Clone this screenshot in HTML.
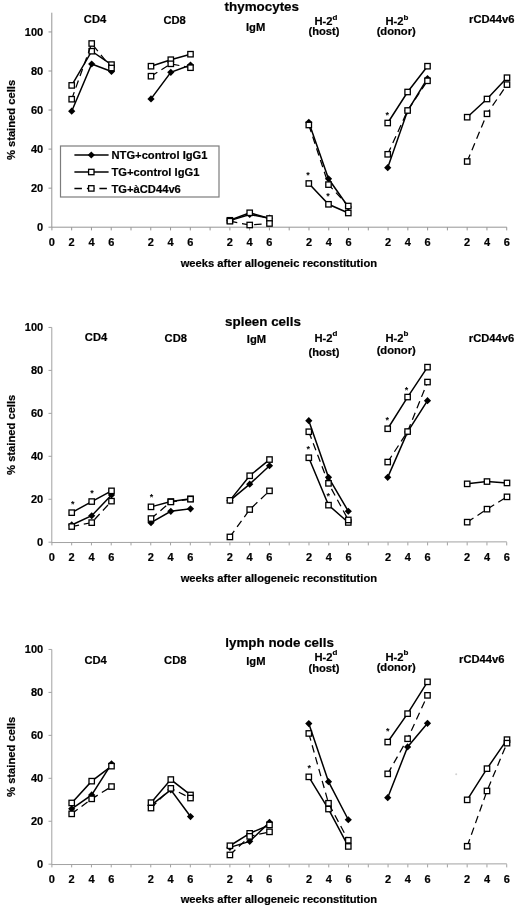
<!DOCTYPE html>
<html lang="en"><head><meta charset="utf-8"><title>Figure</title>
<style>
html,body{margin:0;padding:0;background:#fff}
svg{display:block}
text{font-family:"Liberation Sans",Arial,Helvetica,sans-serif;font-weight:bold;fill:#000;stroke:#000;stroke-width:.2px}
.t{font-size:11px}
.l{font-size:11.2px}
.h{font-size:13.4px}
.s{font-size:8px}
.st{font-size:9px;font-weight:bold;stroke:none}
</style></head><body>
<svg width="520" height="909" viewBox="0 0 520 909">
<rect width="520" height="909" fill="#fff"/>
<g stroke="#959595" stroke-width="1" fill="none">
<path d="M51.8 12.7V227.2L506.8 227.2"/>
<path d="M48.50 227.20H51.8"/>
<path d="M48.50 188.15H51.8"/>
<path d="M48.50 149.10H51.8"/>
<path d="M48.50 110.05H51.8"/>
<path d="M48.50 71.00H51.8"/>
<path d="M48.50 31.95H51.8"/>
<path d="M51.90 227.2V230.40"/>
<path d="M71.67 227.2V230.40"/>
<path d="M91.45 227.2V230.40"/>
<path d="M111.22 227.2V230.40"/>
<path d="M131.00 227.2V230.40"/>
<path d="M150.78 227.2V230.40"/>
<path d="M170.55 227.2V230.40"/>
<path d="M190.32 227.2V230.40"/>
<path d="M210.10 227.2V230.40"/>
<path d="M229.88 227.2V230.40"/>
<path d="M249.65 227.2V230.40"/>
<path d="M269.42 227.2V230.40"/>
<path d="M289.20 227.2V230.40"/>
<path d="M308.97 227.2V230.40"/>
<path d="M328.75 227.2V230.40"/>
<path d="M348.52 227.2V230.40"/>
<path d="M368.30 227.2V230.40"/>
<path d="M388.07 227.2V230.40"/>
<path d="M407.85 227.2V230.40"/>
<path d="M427.62 227.2V230.40"/>
<path d="M447.40 227.2V230.40"/>
<path d="M467.17 227.2V230.40"/>
<path d="M486.95 227.2V230.40"/>
<path d="M506.72 227.2V230.40"/>
</g>
<text class="t" text-anchor="end" x="43.2" y="231.10">0</text>
<text class="t" text-anchor="end" x="43.2" y="192.05">20</text>
<text class="t" text-anchor="end" x="43.2" y="153.00">40</text>
<text class="t" text-anchor="end" x="43.2" y="113.95">60</text>
<text class="t" text-anchor="end" x="43.2" y="74.90">80</text>
<text class="t" text-anchor="end" x="43.2" y="35.85">100</text>
<text class="t" text-anchor="middle" x="51.90" y="246.3">0</text>
<text class="t" text-anchor="middle" x="71.67" y="246.3">2</text>
<text class="t" text-anchor="middle" x="91.45" y="246.3">4</text>
<text class="t" text-anchor="middle" x="111.22" y="246.3">6</text>
<text class="t" text-anchor="middle" x="150.78" y="246.3">2</text>
<text class="t" text-anchor="middle" x="170.55" y="246.3">4</text>
<text class="t" text-anchor="middle" x="190.32" y="246.3">6</text>
<text class="t" text-anchor="middle" x="229.88" y="246.3">2</text>
<text class="t" text-anchor="middle" x="249.65" y="246.3">4</text>
<text class="t" text-anchor="middle" x="269.42" y="246.3">6</text>
<text class="t" text-anchor="middle" x="308.97" y="246.3">2</text>
<text class="t" text-anchor="middle" x="328.75" y="246.3">4</text>
<text class="t" text-anchor="middle" x="348.52" y="246.3">6</text>
<text class="t" text-anchor="middle" x="388.07" y="246.3">2</text>
<text class="t" text-anchor="middle" x="407.85" y="246.3">4</text>
<text class="t" text-anchor="middle" x="427.62" y="246.3">6</text>
<text class="t" text-anchor="middle" x="467.17" y="246.3">2</text>
<text class="t" text-anchor="middle" x="486.95" y="246.3">4</text>
<text class="t" text-anchor="middle" x="506.72" y="246.3">6</text>
<text class="l" text-anchor="middle" x="278.9" y="266.7">weeks after allogeneic reconstitution</text>
<text class="l" text-anchor="middle" transform="translate(15.2 120.0) rotate(-90)">% stained cells</text>
<text class="h" text-anchor="middle" x="261.8" y="11">thymocytes</text>
<text class="l" text-anchor="middle" x="95" y="23.1">CD4</text>
<text class="l" text-anchor="middle" x="174.6" y="24.1">CD8</text>
<text class="l" text-anchor="middle" x="255.6" y="31.3">IgM</text>
<text class="l" text-anchor="middle" x="326" y="25.0">H-2<tspan class="s" dy="-5.5">d</tspan></text>
<text class="l" text-anchor="middle" x="324" y="35">(host)</text>
<text class="l" text-anchor="middle" x="397" y="25.0">H-2<tspan class="s" dy="-5.5">b</tspan></text>
<text class="l" text-anchor="middle" x="396.2" y="34.8">(donor)</text>
<text class="l" text-anchor="middle" x="491.8" y="23">rCD44v6</text>
<path d="M71.70 111.20L91.70 64.00L111.50 71.50" fill="none" stroke="#000" stroke-width="1.5"/>
<path d="M71.70 107.60L75.30 111.20L71.70 114.80L68.10 111.20Z" fill="#000"/>
<path d="M91.70 60.40L95.30 64.00L91.70 67.60L88.10 64.00Z" fill="#000"/>
<path d="M111.50 67.90L115.10 71.50L111.50 75.10L107.90 71.50Z" fill="#000"/>
<path d="M151.00 98.90L170.80 72.30L190.50 65.00" fill="none" stroke="#000" stroke-width="1.5"/>
<path d="M151.00 95.30L154.60 98.90L151.00 102.50L147.40 98.90Z" fill="#000"/>
<path d="M170.80 68.70L174.40 72.30L170.80 75.90L167.20 72.30Z" fill="#000"/>
<path d="M190.50 61.40L194.10 65.00L190.50 68.60L186.90 65.00Z" fill="#000"/>
<path d="M229.90 220.60L249.70 214.50L269.50 218.20" fill="none" stroke="#000" stroke-width="1.5"/>
<path d="M229.90 217.00L233.50 220.60L229.90 224.20L226.30 220.60Z" fill="#000"/>
<path d="M249.70 210.90L253.30 214.50L249.70 218.10L246.10 214.50Z" fill="#000"/>
<path d="M269.50 214.60L273.10 218.20L269.50 221.80L265.90 218.20Z" fill="#000"/>
<path d="M308.80 122.30L328.50 178.80L348.30 207.00" fill="none" stroke="#000" stroke-width="1.5"/>
<path d="M308.80 118.70L312.40 122.30L308.80 125.90L305.20 122.30Z" fill="#000"/>
<path d="M328.50 175.20L332.10 178.80L328.50 182.40L324.90 178.80Z" fill="#000"/>
<path d="M348.30 203.40L351.90 207.00L348.30 210.60L344.70 207.00Z" fill="#000"/>
<path d="M387.70 167.70L407.60 110.80L427.50 78.50" fill="none" stroke="#000" stroke-width="1.5"/>
<path d="M387.70 164.10L391.30 167.70L387.70 171.30L384.10 167.70Z" fill="#000"/>
<path d="M407.60 107.20L411.20 110.80L407.60 114.40L404.00 110.80Z" fill="#000"/>
<path d="M427.50 74.90L431.10 78.50L427.50 82.10L423.90 78.50Z" fill="#000"/>
<path d="M71.70 85.40L91.70 51.20L111.50 64.60" fill="none" stroke="#000" stroke-width="1.5"/>
<rect x="69.00" y="82.70" width="5.4" height="5.4" fill="#fff" stroke="#000" stroke-width="1.3"/>
<rect x="89.00" y="48.50" width="5.4" height="5.4" fill="#fff" stroke="#000" stroke-width="1.3"/>
<rect x="108.80" y="61.90" width="5.4" height="5.4" fill="#fff" stroke="#000" stroke-width="1.3"/>
<path d="M151.00 66.20L170.80 59.70L190.50 54.20" fill="none" stroke="#000" stroke-width="1.5"/>
<rect x="148.30" y="63.50" width="5.4" height="5.4" fill="#fff" stroke="#000" stroke-width="1.3"/>
<rect x="168.10" y="57.00" width="5.4" height="5.4" fill="#fff" stroke="#000" stroke-width="1.3"/>
<rect x="187.80" y="51.50" width="5.4" height="5.4" fill="#fff" stroke="#000" stroke-width="1.3"/>
<path d="M229.90 220.30L249.70 212.80L269.50 218.50" fill="none" stroke="#000" stroke-width="1.5"/>
<rect x="227.20" y="217.60" width="5.4" height="5.4" fill="#fff" stroke="#000" stroke-width="1.3"/>
<rect x="247.00" y="210.10" width="5.4" height="5.4" fill="#fff" stroke="#000" stroke-width="1.3"/>
<rect x="266.80" y="215.80" width="5.4" height="5.4" fill="#fff" stroke="#000" stroke-width="1.3"/>
<path d="M308.80 183.50L328.50 204.30L348.30 213.00" fill="none" stroke="#000" stroke-width="1.5"/>
<rect x="306.10" y="180.80" width="5.4" height="5.4" fill="#fff" stroke="#000" stroke-width="1.3"/>
<rect x="325.80" y="201.60" width="5.4" height="5.4" fill="#fff" stroke="#000" stroke-width="1.3"/>
<rect x="345.60" y="210.30" width="5.4" height="5.4" fill="#fff" stroke="#000" stroke-width="1.3"/>
<path d="M387.70 123.00L407.60 92.00L427.50 66.20" fill="none" stroke="#000" stroke-width="1.5"/>
<rect x="385.00" y="120.30" width="5.4" height="5.4" fill="#fff" stroke="#000" stroke-width="1.3"/>
<rect x="404.90" y="89.30" width="5.4" height="5.4" fill="#fff" stroke="#000" stroke-width="1.3"/>
<rect x="424.80" y="63.50" width="5.4" height="5.4" fill="#fff" stroke="#000" stroke-width="1.3"/>
<path d="M467.20 117.20L487.00 99.00L507.00 77.70" fill="none" stroke="#000" stroke-width="1.5"/>
<rect x="464.50" y="114.50" width="5.4" height="5.4" fill="#fff" stroke="#000" stroke-width="1.3"/>
<rect x="484.30" y="96.30" width="5.4" height="5.4" fill="#fff" stroke="#000" stroke-width="1.3"/>
<rect x="504.30" y="75.00" width="5.4" height="5.4" fill="#fff" stroke="#000" stroke-width="1.3"/>
<path d="M71.70 99.20L91.70 43.50L111.50 68.00" fill="none" stroke="#000" stroke-width="1.25" stroke-dasharray="7.5 4.8"/>
<rect x="69.00" y="96.50" width="5.4" height="5.4" fill="#fff" stroke="#000" stroke-width="1.3"/>
<rect x="89.00" y="40.80" width="5.4" height="5.4" fill="#fff" stroke="#000" stroke-width="1.3"/>
<rect x="108.80" y="65.30" width="5.4" height="5.4" fill="#fff" stroke="#000" stroke-width="1.3"/>
<path d="M151.00 76.20L170.80 63.80L190.50 67.70" fill="none" stroke="#000" stroke-width="1.25" stroke-dasharray="7.5 4.8"/>
<rect x="148.30" y="73.50" width="5.4" height="5.4" fill="#fff" stroke="#000" stroke-width="1.3"/>
<rect x="168.10" y="61.10" width="5.4" height="5.4" fill="#fff" stroke="#000" stroke-width="1.3"/>
<rect x="187.80" y="65.00" width="5.4" height="5.4" fill="#fff" stroke="#000" stroke-width="1.3"/>
<path d="M229.90 221.20L249.70 225.00L269.50 223.50" fill="none" stroke="#000" stroke-width="1.25" stroke-dasharray="7.5 4.8"/>
<rect x="227.20" y="218.50" width="5.4" height="5.4" fill="#fff" stroke="#000" stroke-width="1.3"/>
<rect x="247.00" y="222.30" width="5.4" height="5.4" fill="#fff" stroke="#000" stroke-width="1.3"/>
<rect x="266.80" y="220.80" width="5.4" height="5.4" fill="#fff" stroke="#000" stroke-width="1.3"/>
<path d="M308.80 125.00L328.50 184.60L348.30 206.00" fill="none" stroke="#000" stroke-width="1.25" stroke-dasharray="7.5 4.8"/>
<rect x="306.10" y="122.30" width="5.4" height="5.4" fill="#fff" stroke="#000" stroke-width="1.3"/>
<rect x="325.80" y="181.90" width="5.4" height="5.4" fill="#fff" stroke="#000" stroke-width="1.3"/>
<rect x="345.60" y="203.30" width="5.4" height="5.4" fill="#fff" stroke="#000" stroke-width="1.3"/>
<path d="M387.70 154.30L407.60 110.50L427.50 80.80" fill="none" stroke="#000" stroke-width="1.25" stroke-dasharray="7.5 4.8"/>
<rect x="385.00" y="151.60" width="5.4" height="5.4" fill="#fff" stroke="#000" stroke-width="1.3"/>
<rect x="404.90" y="107.80" width="5.4" height="5.4" fill="#fff" stroke="#000" stroke-width="1.3"/>
<rect x="424.80" y="78.10" width="5.4" height="5.4" fill="#fff" stroke="#000" stroke-width="1.3"/>
<path d="M467.20 161.50L487.00 113.80L507.00 84.60" fill="none" stroke="#000" stroke-width="1.25" stroke-dasharray="7.5 4.8"/>
<rect x="464.50" y="158.80" width="5.4" height="5.4" fill="#fff" stroke="#000" stroke-width="1.3"/>
<rect x="484.30" y="111.10" width="5.4" height="5.4" fill="#fff" stroke="#000" stroke-width="1.3"/>
<rect x="504.30" y="81.90" width="5.4" height="5.4" fill="#fff" stroke="#000" stroke-width="1.3"/>
<text class="st" text-anchor="middle" x="308" y="177.7">*</text>
<text class="st" text-anchor="middle" x="328" y="199.3">*</text>
<text class="st" text-anchor="middle" x="387.2" y="117.7">*</text>
<g stroke="#a2a2a2" stroke-width="1" fill="none">
<path d="M51.8 327.45V542.5500000000001L506.8 541.85"/>
<path d="M48.50 542.20H51.8"/>
<path d="M48.50 499.25H51.8"/>
<path d="M48.50 456.30H51.8"/>
<path d="M48.50 413.35H51.8"/>
<path d="M48.50 370.40H51.8"/>
<path d="M48.50 327.45H51.8"/>
<path d="M51.90 542.2V545.40"/>
<path d="M71.67 542.2V545.40"/>
<path d="M91.45 542.2V545.40"/>
<path d="M111.22 542.2V545.40"/>
<path d="M131.00 542.2V545.40"/>
<path d="M150.78 542.2V545.40"/>
<path d="M170.55 542.2V545.40"/>
<path d="M190.32 542.2V545.40"/>
<path d="M210.10 542.2V545.40"/>
<path d="M229.88 542.2V545.40"/>
<path d="M249.65 542.2V545.40"/>
<path d="M269.42 542.2V545.40"/>
<path d="M289.20 542.2V545.40"/>
<path d="M308.97 542.2V545.40"/>
<path d="M328.75 542.2V545.40"/>
<path d="M348.52 542.2V545.40"/>
<path d="M368.30 542.2V545.40"/>
<path d="M388.07 542.2V545.40"/>
<path d="M407.85 542.2V545.40"/>
<path d="M427.62 542.2V545.40"/>
<path d="M447.40 542.2V545.40"/>
<path d="M467.17 542.2V545.40"/>
<path d="M486.95 542.2V545.40"/>
<path d="M506.72 542.2V545.40"/>
</g>
<text class="t" text-anchor="end" x="43.2" y="546.10">0</text>
<text class="t" text-anchor="end" x="43.2" y="503.15">20</text>
<text class="t" text-anchor="end" x="43.2" y="460.20">40</text>
<text class="t" text-anchor="end" x="43.2" y="417.25">60</text>
<text class="t" text-anchor="end" x="43.2" y="374.30">80</text>
<text class="t" text-anchor="end" x="43.2" y="331.35">100</text>
<text class="t" text-anchor="middle" x="51.90" y="561.1">0</text>
<text class="t" text-anchor="middle" x="71.67" y="561.1">2</text>
<text class="t" text-anchor="middle" x="91.45" y="561.1">4</text>
<text class="t" text-anchor="middle" x="111.22" y="561.1">6</text>
<text class="t" text-anchor="middle" x="150.78" y="561.1">2</text>
<text class="t" text-anchor="middle" x="170.55" y="561.1">4</text>
<text class="t" text-anchor="middle" x="190.32" y="561.1">6</text>
<text class="t" text-anchor="middle" x="229.88" y="561.1">2</text>
<text class="t" text-anchor="middle" x="249.65" y="561.1">4</text>
<text class="t" text-anchor="middle" x="269.42" y="561.1">6</text>
<text class="t" text-anchor="middle" x="308.97" y="561.1">2</text>
<text class="t" text-anchor="middle" x="328.75" y="561.1">4</text>
<text class="t" text-anchor="middle" x="348.52" y="561.1">6</text>
<text class="t" text-anchor="middle" x="388.07" y="561.1">2</text>
<text class="t" text-anchor="middle" x="407.85" y="561.1">4</text>
<text class="t" text-anchor="middle" x="427.62" y="561.1">6</text>
<text class="t" text-anchor="middle" x="467.17" y="561.1">2</text>
<text class="t" text-anchor="middle" x="486.95" y="561.1">4</text>
<text class="t" text-anchor="middle" x="506.72" y="561.1">6</text>
<text class="l" text-anchor="middle" x="278.9" y="581.7">weeks after allogeneic reconstitution</text>
<text class="l" text-anchor="middle" transform="translate(15.2 434.8) rotate(-90)">% stained cells</text>
<text class="h" text-anchor="middle" x="263.0" y="326">spleen cells</text>
<text class="l" text-anchor="middle" x="96" y="341.2">CD4</text>
<text class="l" text-anchor="middle" x="175.8" y="342.1">CD8</text>
<text class="l" text-anchor="middle" x="256.5" y="343">IgM</text>
<text class="l" text-anchor="middle" x="326" y="341.9">H-2<tspan class="s" dy="-5.5">d</tspan></text>
<text class="l" text-anchor="middle" x="324" y="355.5">(host)</text>
<text class="l" text-anchor="middle" x="397" y="341.9">H-2<tspan class="s" dy="-5.5">b</tspan></text>
<text class="l" text-anchor="middle" x="396.2" y="354.3">(donor)</text>
<text class="l" text-anchor="middle" x="491.5" y="341.5">rCD44v6</text>
<path d="M71.70 524.95L91.70 515.75L111.50 494.95" fill="none" stroke="#000" stroke-width="1.5"/>
<path d="M71.70 521.35L75.30 524.95L71.70 528.55L68.10 524.95Z" fill="#000"/>
<path d="M91.70 512.15L95.30 515.75L91.70 519.35L88.10 515.75Z" fill="#000"/>
<path d="M111.50 491.35L115.10 494.95L111.50 498.55L107.90 494.95Z" fill="#000"/>
<path d="M151.00 522.65L170.80 511.35L190.50 508.85" fill="none" stroke="#000" stroke-width="1.5"/>
<path d="M151.00 519.05L154.60 522.65L151.00 526.25L147.40 522.65Z" fill="#000"/>
<path d="M170.80 507.75L174.40 511.35L170.80 514.95L167.20 511.35Z" fill="#000"/>
<path d="M190.50 505.25L194.10 508.85L190.50 512.45L186.90 508.85Z" fill="#000"/>
<path d="M229.90 500.55L249.70 484.15L269.50 465.75" fill="none" stroke="#000" stroke-width="1.5"/>
<path d="M229.90 496.95L233.50 500.55L229.90 504.15L226.30 500.55Z" fill="#000"/>
<path d="M249.70 480.55L253.30 484.15L249.70 487.75L246.10 484.15Z" fill="#000"/>
<path d="M269.50 462.15L273.10 465.75L269.50 469.35L265.90 465.75Z" fill="#000"/>
<path d="M308.80 420.65L328.50 477.35L348.30 511.25" fill="none" stroke="#000" stroke-width="1.5"/>
<path d="M308.80 417.05L312.40 420.65L308.80 424.25L305.20 420.65Z" fill="#000"/>
<path d="M328.50 473.75L332.10 477.35L328.50 480.95L324.90 477.35Z" fill="#000"/>
<path d="M348.30 507.65L351.90 511.25L348.30 514.85L344.70 511.25Z" fill="#000"/>
<path d="M387.70 477.35L407.60 431.95L427.50 400.65" fill="none" stroke="#000" stroke-width="1.5"/>
<path d="M387.70 473.75L391.30 477.35L387.70 480.95L384.10 477.35Z" fill="#000"/>
<path d="M407.60 428.35L411.20 431.95L407.60 435.55L404.00 431.95Z" fill="#000"/>
<path d="M427.50 397.05L431.10 400.65L427.50 404.25L423.90 400.65Z" fill="#000"/>
<path d="M71.70 512.65L91.70 501.55L111.50 490.85" fill="none" stroke="#000" stroke-width="1.5"/>
<rect x="69.00" y="509.95" width="5.4" height="5.4" fill="#fff" stroke="#000" stroke-width="1.3"/>
<rect x="89.00" y="498.85" width="5.4" height="5.4" fill="#fff" stroke="#000" stroke-width="1.3"/>
<rect x="108.80" y="488.15" width="5.4" height="5.4" fill="#fff" stroke="#000" stroke-width="1.3"/>
<path d="M151.00 506.85L170.80 501.55L190.50 498.85" fill="none" stroke="#000" stroke-width="1.5"/>
<rect x="148.30" y="504.15" width="5.4" height="5.4" fill="#fff" stroke="#000" stroke-width="1.3"/>
<rect x="168.10" y="498.85" width="5.4" height="5.4" fill="#fff" stroke="#000" stroke-width="1.3"/>
<rect x="187.80" y="496.15" width="5.4" height="5.4" fill="#fff" stroke="#000" stroke-width="1.3"/>
<path d="M229.90 500.35L249.70 475.75L269.50 459.55" fill="none" stroke="#000" stroke-width="1.5"/>
<rect x="227.20" y="497.65" width="5.4" height="5.4" fill="#fff" stroke="#000" stroke-width="1.3"/>
<rect x="247.00" y="473.05" width="5.4" height="5.4" fill="#fff" stroke="#000" stroke-width="1.3"/>
<rect x="266.80" y="456.85" width="5.4" height="5.4" fill="#fff" stroke="#000" stroke-width="1.3"/>
<path d="M308.80 457.75L328.50 505.15L348.30 522.45" fill="none" stroke="#000" stroke-width="1.5"/>
<rect x="306.10" y="455.05" width="5.4" height="5.4" fill="#fff" stroke="#000" stroke-width="1.3"/>
<rect x="325.80" y="502.45" width="5.4" height="5.4" fill="#fff" stroke="#000" stroke-width="1.3"/>
<rect x="345.60" y="519.75" width="5.4" height="5.4" fill="#fff" stroke="#000" stroke-width="1.3"/>
<path d="M387.70 428.75L407.60 397.05L427.50 367.15" fill="none" stroke="#000" stroke-width="1.5"/>
<rect x="385.00" y="426.05" width="5.4" height="5.4" fill="#fff" stroke="#000" stroke-width="1.3"/>
<rect x="404.90" y="394.35" width="5.4" height="5.4" fill="#fff" stroke="#000" stroke-width="1.3"/>
<rect x="424.80" y="364.45" width="5.4" height="5.4" fill="#fff" stroke="#000" stroke-width="1.3"/>
<path d="M467.20 483.85L487.00 481.55L507.00 482.95" fill="none" stroke="#000" stroke-width="1.5"/>
<rect x="464.50" y="481.15" width="5.4" height="5.4" fill="#fff" stroke="#000" stroke-width="1.3"/>
<rect x="484.30" y="478.85" width="5.4" height="5.4" fill="#fff" stroke="#000" stroke-width="1.3"/>
<rect x="504.30" y="480.25" width="5.4" height="5.4" fill="#fff" stroke="#000" stroke-width="1.3"/>
<path d="M71.70 526.55L91.70 522.65L111.50 501.15" fill="none" stroke="#000" stroke-width="1.25" stroke-dasharray="7.5 4.8"/>
<rect x="69.00" y="523.85" width="5.4" height="5.4" fill="#fff" stroke="#000" stroke-width="1.3"/>
<rect x="89.00" y="519.95" width="5.4" height="5.4" fill="#fff" stroke="#000" stroke-width="1.3"/>
<rect x="108.80" y="498.45" width="5.4" height="5.4" fill="#fff" stroke="#000" stroke-width="1.3"/>
<path d="M151.00 518.55L170.80 501.95L190.50 499.15" fill="none" stroke="#000" stroke-width="1.25" stroke-dasharray="7.5 4.8"/>
<rect x="148.30" y="515.85" width="5.4" height="5.4" fill="#fff" stroke="#000" stroke-width="1.3"/>
<rect x="168.10" y="499.25" width="5.4" height="5.4" fill="#fff" stroke="#000" stroke-width="1.3"/>
<rect x="187.80" y="496.45" width="5.4" height="5.4" fill="#fff" stroke="#000" stroke-width="1.3"/>
<path d="M229.90 536.95L249.70 509.55L269.50 490.85" fill="none" stroke="#000" stroke-width="1.25" stroke-dasharray="7.5 4.8"/>
<rect x="227.20" y="534.25" width="5.4" height="5.4" fill="#fff" stroke="#000" stroke-width="1.3"/>
<rect x="247.00" y="506.85" width="5.4" height="5.4" fill="#fff" stroke="#000" stroke-width="1.3"/>
<rect x="266.80" y="488.15" width="5.4" height="5.4" fill="#fff" stroke="#000" stroke-width="1.3"/>
<path d="M308.80 431.75L328.50 483.35L348.30 519.95" fill="none" stroke="#000" stroke-width="1.25" stroke-dasharray="7.5 4.8"/>
<rect x="306.10" y="429.05" width="5.4" height="5.4" fill="#fff" stroke="#000" stroke-width="1.3"/>
<rect x="325.80" y="480.65" width="5.4" height="5.4" fill="#fff" stroke="#000" stroke-width="1.3"/>
<rect x="345.60" y="517.25" width="5.4" height="5.4" fill="#fff" stroke="#000" stroke-width="1.3"/>
<path d="M387.70 462.05L407.60 431.55L427.50 382.05" fill="none" stroke="#000" stroke-width="1.25" stroke-dasharray="7.5 4.8"/>
<rect x="385.00" y="459.35" width="5.4" height="5.4" fill="#fff" stroke="#000" stroke-width="1.3"/>
<rect x="404.90" y="428.85" width="5.4" height="5.4" fill="#fff" stroke="#000" stroke-width="1.3"/>
<rect x="424.80" y="379.35" width="5.4" height="5.4" fill="#fff" stroke="#000" stroke-width="1.3"/>
<path d="M467.20 522.15L487.00 509.15L507.00 496.85" fill="none" stroke="#000" stroke-width="1.25" stroke-dasharray="7.5 4.8"/>
<rect x="464.50" y="519.45" width="5.4" height="5.4" fill="#fff" stroke="#000" stroke-width="1.3"/>
<rect x="484.30" y="506.45" width="5.4" height="5.4" fill="#fff" stroke="#000" stroke-width="1.3"/>
<rect x="504.30" y="494.15" width="5.4" height="5.4" fill="#fff" stroke="#000" stroke-width="1.3"/>
<text class="st" text-anchor="middle" x="72.7" y="506.9">*</text>
<text class="st" text-anchor="middle" x="92" y="495.8">*</text>
<text class="st" text-anchor="middle" x="151.5" y="500.0">*</text>
<text class="st" text-anchor="middle" x="308.2" y="452.2">*</text>
<text class="st" text-anchor="middle" x="328.3" y="498.7">*</text>
<text class="st" text-anchor="middle" x="387.3" y="423.3">*</text>
<text class="st" text-anchor="middle" x="406.6" y="392.7">*</text>
<g stroke="#a2a2a2" stroke-width="1" fill="none">
<path d="M51.8 649.45V864.5500000000001L506.8 863.85"/>
<path d="M48.50 864.20H51.8"/>
<path d="M48.50 821.25H51.8"/>
<path d="M48.50 778.30H51.8"/>
<path d="M48.50 735.35H51.8"/>
<path d="M48.50 692.40H51.8"/>
<path d="M48.50 649.45H51.8"/>
<path d="M51.90 864.2V867.40"/>
<path d="M71.67 864.2V867.40"/>
<path d="M91.45 864.2V867.40"/>
<path d="M111.22 864.2V867.40"/>
<path d="M131.00 864.2V867.40"/>
<path d="M150.78 864.2V867.40"/>
<path d="M170.55 864.2V867.40"/>
<path d="M190.32 864.2V867.40"/>
<path d="M210.10 864.2V867.40"/>
<path d="M229.88 864.2V867.40"/>
<path d="M249.65 864.2V867.40"/>
<path d="M269.42 864.2V867.40"/>
<path d="M289.20 864.2V867.40"/>
<path d="M308.97 864.2V867.40"/>
<path d="M328.75 864.2V867.40"/>
<path d="M348.52 864.2V867.40"/>
<path d="M368.30 864.2V867.40"/>
<path d="M388.07 864.2V867.40"/>
<path d="M407.85 864.2V867.40"/>
<path d="M427.62 864.2V867.40"/>
<path d="M447.40 864.2V867.40"/>
<path d="M467.17 864.2V867.40"/>
<path d="M486.95 864.2V867.40"/>
<path d="M506.72 864.2V867.40"/>
</g>
<text class="t" text-anchor="end" x="43.2" y="868.10">0</text>
<text class="t" text-anchor="end" x="43.2" y="825.15">20</text>
<text class="t" text-anchor="end" x="43.2" y="782.20">40</text>
<text class="t" text-anchor="end" x="43.2" y="739.25">60</text>
<text class="t" text-anchor="end" x="43.2" y="696.30">80</text>
<text class="t" text-anchor="end" x="43.2" y="653.35">100</text>
<text class="t" text-anchor="middle" x="51.90" y="883.3">0</text>
<text class="t" text-anchor="middle" x="71.67" y="883.3">2</text>
<text class="t" text-anchor="middle" x="91.45" y="883.3">4</text>
<text class="t" text-anchor="middle" x="111.22" y="883.3">6</text>
<text class="t" text-anchor="middle" x="150.78" y="883.3">2</text>
<text class="t" text-anchor="middle" x="170.55" y="883.3">4</text>
<text class="t" text-anchor="middle" x="190.32" y="883.3">6</text>
<text class="t" text-anchor="middle" x="229.88" y="883.3">2</text>
<text class="t" text-anchor="middle" x="249.65" y="883.3">4</text>
<text class="t" text-anchor="middle" x="269.42" y="883.3">6</text>
<text class="t" text-anchor="middle" x="308.97" y="883.3">2</text>
<text class="t" text-anchor="middle" x="328.75" y="883.3">4</text>
<text class="t" text-anchor="middle" x="348.52" y="883.3">6</text>
<text class="t" text-anchor="middle" x="388.07" y="883.3">2</text>
<text class="t" text-anchor="middle" x="407.85" y="883.3">4</text>
<text class="t" text-anchor="middle" x="427.62" y="883.3">6</text>
<text class="t" text-anchor="middle" x="467.17" y="883.3">2</text>
<text class="t" text-anchor="middle" x="486.95" y="883.3">4</text>
<text class="t" text-anchor="middle" x="506.72" y="883.3">6</text>
<text class="l" text-anchor="middle" x="278.9" y="903.0">weeks after allogeneic reconstitution</text>
<text class="l" text-anchor="middle" transform="translate(15.2 756.8) rotate(-90)">% stained cells</text>
<text class="h" text-anchor="middle" x="279.6" y="647.4">lymph node cells</text>
<text class="l" text-anchor="middle" x="95.6" y="664.1">CD4</text>
<text class="l" text-anchor="middle" x="175.3" y="663.7">CD8</text>
<text class="l" text-anchor="middle" x="255.9" y="665">IgM</text>
<text class="l" text-anchor="middle" x="326" y="660.7">H-2<tspan class="s" dy="-5.5">d</tspan></text>
<text class="l" text-anchor="middle" x="324" y="672">(host)</text>
<text class="l" text-anchor="middle" x="397" y="660.7">H-2<tspan class="s" dy="-5.5">b</tspan></text>
<text class="l" text-anchor="middle" x="396.2" y="671.3">(donor)</text>
<text class="l" text-anchor="middle" x="481.8" y="663.2">rCD44v6</text>
<path d="M71.70 808.85L91.70 794.95L111.50 763.85" fill="none" stroke="#000" stroke-width="1.5"/>
<path d="M71.70 805.25L75.30 808.85L71.70 812.45L68.10 808.85Z" fill="#000"/>
<path d="M91.70 791.35L95.30 794.95L91.70 798.55L88.10 794.95Z" fill="#000"/>
<path d="M111.50 760.25L115.10 763.85L111.50 767.45L107.90 763.85Z" fill="#000"/>
<path d="M151.00 805.35L170.80 789.85L190.50 816.55" fill="none" stroke="#000" stroke-width="1.5"/>
<path d="M151.00 801.75L154.60 805.35L151.00 808.95L147.40 805.35Z" fill="#000"/>
<path d="M170.80 786.25L174.40 789.85L170.80 793.45L167.20 789.85Z" fill="#000"/>
<path d="M190.50 812.95L194.10 816.55L190.50 820.15L186.90 816.55Z" fill="#000"/>
<path d="M229.90 847.35L249.70 841.35L269.50 822.35" fill="none" stroke="#000" stroke-width="1.5"/>
<path d="M229.90 843.75L233.50 847.35L229.90 850.95L226.30 847.35Z" fill="#000"/>
<path d="M249.70 837.75L253.30 841.35L249.70 844.95L246.10 841.35Z" fill="#000"/>
<path d="M269.50 818.75L273.10 822.35L269.50 825.95L265.90 822.35Z" fill="#000"/>
<path d="M308.80 723.55L328.50 781.65L348.30 819.75" fill="none" stroke="#000" stroke-width="1.5"/>
<path d="M308.80 719.95L312.40 723.55L308.80 727.15L305.20 723.55Z" fill="#000"/>
<path d="M328.50 778.05L332.10 781.65L328.50 785.25L324.90 781.65Z" fill="#000"/>
<path d="M348.30 816.15L351.90 819.75L348.30 823.35L344.70 819.75Z" fill="#000"/>
<path d="M387.70 797.65L407.60 746.95L427.50 723.35" fill="none" stroke="#000" stroke-width="1.5"/>
<path d="M387.70 794.05L391.30 797.65L387.70 801.25L384.10 797.65Z" fill="#000"/>
<path d="M407.60 743.35L411.20 746.95L407.60 750.55L404.00 746.95Z" fill="#000"/>
<path d="M427.50 719.75L431.10 723.35L427.50 726.95L423.90 723.35Z" fill="#000"/>
<path d="M71.70 802.95L91.70 781.15L111.50 766.15" fill="none" stroke="#000" stroke-width="1.5"/>
<rect x="69.00" y="800.25" width="5.4" height="5.4" fill="#fff" stroke="#000" stroke-width="1.3"/>
<rect x="89.00" y="778.45" width="5.4" height="5.4" fill="#fff" stroke="#000" stroke-width="1.3"/>
<rect x="108.80" y="763.45" width="5.4" height="5.4" fill="#fff" stroke="#000" stroke-width="1.3"/>
<path d="M151.00 802.65L170.80 779.55L190.50 794.95" fill="none" stroke="#000" stroke-width="1.5"/>
<rect x="148.30" y="799.95" width="5.4" height="5.4" fill="#fff" stroke="#000" stroke-width="1.3"/>
<rect x="168.10" y="776.85" width="5.4" height="5.4" fill="#fff" stroke="#000" stroke-width="1.3"/>
<rect x="187.80" y="792.25" width="5.4" height="5.4" fill="#fff" stroke="#000" stroke-width="1.3"/>
<path d="M229.90 845.75L249.70 833.35L269.50 824.95" fill="none" stroke="#000" stroke-width="1.5"/>
<rect x="227.20" y="843.05" width="5.4" height="5.4" fill="#fff" stroke="#000" stroke-width="1.3"/>
<rect x="247.00" y="830.65" width="5.4" height="5.4" fill="#fff" stroke="#000" stroke-width="1.3"/>
<rect x="266.80" y="822.25" width="5.4" height="5.4" fill="#fff" stroke="#000" stroke-width="1.3"/>
<path d="M308.80 776.85L328.50 809.05L348.30 846.45" fill="none" stroke="#000" stroke-width="1.5"/>
<rect x="306.10" y="774.15" width="5.4" height="5.4" fill="#fff" stroke="#000" stroke-width="1.3"/>
<rect x="325.80" y="806.35" width="5.4" height="5.4" fill="#fff" stroke="#000" stroke-width="1.3"/>
<rect x="345.60" y="843.75" width="5.4" height="5.4" fill="#fff" stroke="#000" stroke-width="1.3"/>
<path d="M387.70 742.05L407.60 713.65L427.50 681.85" fill="none" stroke="#000" stroke-width="1.5"/>
<rect x="385.00" y="739.35" width="5.4" height="5.4" fill="#fff" stroke="#000" stroke-width="1.3"/>
<rect x="404.90" y="710.95" width="5.4" height="5.4" fill="#fff" stroke="#000" stroke-width="1.3"/>
<rect x="424.80" y="679.15" width="5.4" height="5.4" fill="#fff" stroke="#000" stroke-width="1.3"/>
<path d="M467.20 799.85L487.00 768.65L507.00 739.65" fill="none" stroke="#000" stroke-width="1.5"/>
<rect x="464.50" y="797.15" width="5.4" height="5.4" fill="#fff" stroke="#000" stroke-width="1.3"/>
<rect x="484.30" y="765.95" width="5.4" height="5.4" fill="#fff" stroke="#000" stroke-width="1.3"/>
<rect x="504.30" y="736.95" width="5.4" height="5.4" fill="#fff" stroke="#000" stroke-width="1.3"/>
<path d="M71.70 813.85L91.70 798.85L111.50 786.55" fill="none" stroke="#000" stroke-width="1.25" stroke-dasharray="7.5 4.8"/>
<rect x="69.00" y="811.15" width="5.4" height="5.4" fill="#fff" stroke="#000" stroke-width="1.3"/>
<rect x="89.00" y="796.15" width="5.4" height="5.4" fill="#fff" stroke="#000" stroke-width="1.3"/>
<rect x="108.80" y="783.85" width="5.4" height="5.4" fill="#fff" stroke="#000" stroke-width="1.3"/>
<path d="M151.00 808.05L170.80 788.35L190.50 798.05" fill="none" stroke="#000" stroke-width="1.25" stroke-dasharray="7.5 4.8"/>
<rect x="148.30" y="805.35" width="5.4" height="5.4" fill="#fff" stroke="#000" stroke-width="1.3"/>
<rect x="168.10" y="785.65" width="5.4" height="5.4" fill="#fff" stroke="#000" stroke-width="1.3"/>
<rect x="187.80" y="795.35" width="5.4" height="5.4" fill="#fff" stroke="#000" stroke-width="1.3"/>
<path d="M229.90 854.95L249.70 836.35L269.50 831.85" fill="none" stroke="#000" stroke-width="1.25" stroke-dasharray="7.5 4.8"/>
<rect x="227.20" y="852.25" width="5.4" height="5.4" fill="#fff" stroke="#000" stroke-width="1.3"/>
<rect x="247.00" y="833.65" width="5.4" height="5.4" fill="#fff" stroke="#000" stroke-width="1.3"/>
<rect x="266.80" y="829.15" width="5.4" height="5.4" fill="#fff" stroke="#000" stroke-width="1.3"/>
<path d="M308.80 733.45L328.50 803.25L348.30 840.25" fill="none" stroke="#000" stroke-width="1.25" stroke-dasharray="7.5 4.8"/>
<rect x="306.10" y="730.75" width="5.4" height="5.4" fill="#fff" stroke="#000" stroke-width="1.3"/>
<rect x="325.80" y="800.55" width="5.4" height="5.4" fill="#fff" stroke="#000" stroke-width="1.3"/>
<rect x="345.60" y="837.55" width="5.4" height="5.4" fill="#fff" stroke="#000" stroke-width="1.3"/>
<path d="M387.70 773.85L407.60 738.75L427.50 695.35" fill="none" stroke="#000" stroke-width="1.25" stroke-dasharray="7.5 4.8"/>
<rect x="385.00" y="771.15" width="5.4" height="5.4" fill="#fff" stroke="#000" stroke-width="1.3"/>
<rect x="404.90" y="736.05" width="5.4" height="5.4" fill="#fff" stroke="#000" stroke-width="1.3"/>
<rect x="424.80" y="692.65" width="5.4" height="5.4" fill="#fff" stroke="#000" stroke-width="1.3"/>
<path d="M467.20 846.25L487.00 790.95L507.00 743.15" fill="none" stroke="#000" stroke-width="1.25" stroke-dasharray="7.5 4.8"/>
<rect x="464.50" y="843.55" width="5.4" height="5.4" fill="#fff" stroke="#000" stroke-width="1.3"/>
<rect x="484.30" y="788.25" width="5.4" height="5.4" fill="#fff" stroke="#000" stroke-width="1.3"/>
<rect x="504.30" y="740.45" width="5.4" height="5.4" fill="#fff" stroke="#000" stroke-width="1.3"/>
<text class="st" text-anchor="middle" x="309.3" y="770.9">*</text>
<text class="st" text-anchor="middle" x="387.8" y="734.1">*</text>
<circle cx="456.2" cy="774.2" r="1" fill="#d2d2d2"/>
<rect x="60.5" y="146" width="158.5" height="51" fill="#fff" stroke="#7c7c7c" stroke-width="1.2"/>
<path d="M74.4 155H108.6" fill="none" stroke="#000" stroke-width="1.5"/>
<path d="M91.30 151.40L94.90 155.00L91.30 158.60L87.70 155.00Z" fill="#000"/>
<text class="l" x="111.5" y="158.8">NTG+control IgG1</text>
<path d="M74.4 172H108.6" fill="none" stroke="#000" stroke-width="1.5"/>
<rect x="88.60" y="169.30" width="5.4" height="5.4" fill="#fff" stroke="#000" stroke-width="1.3"/>
<text class="l" x="111.5" y="175.7">TG+control IgG1</text>
<path d="M74.4 188.4H108.6" fill="none" stroke="#000" stroke-width="1.5" stroke-dasharray="7.5 5"/>
<rect x="88.60" y="185.70" width="5.4" height="5.4" fill="#fff" stroke="#000" stroke-width="1.3"/>
<text class="l" x="111.5" y="192.5">TG+àCD44v6</text>
</svg>
</body></html>
